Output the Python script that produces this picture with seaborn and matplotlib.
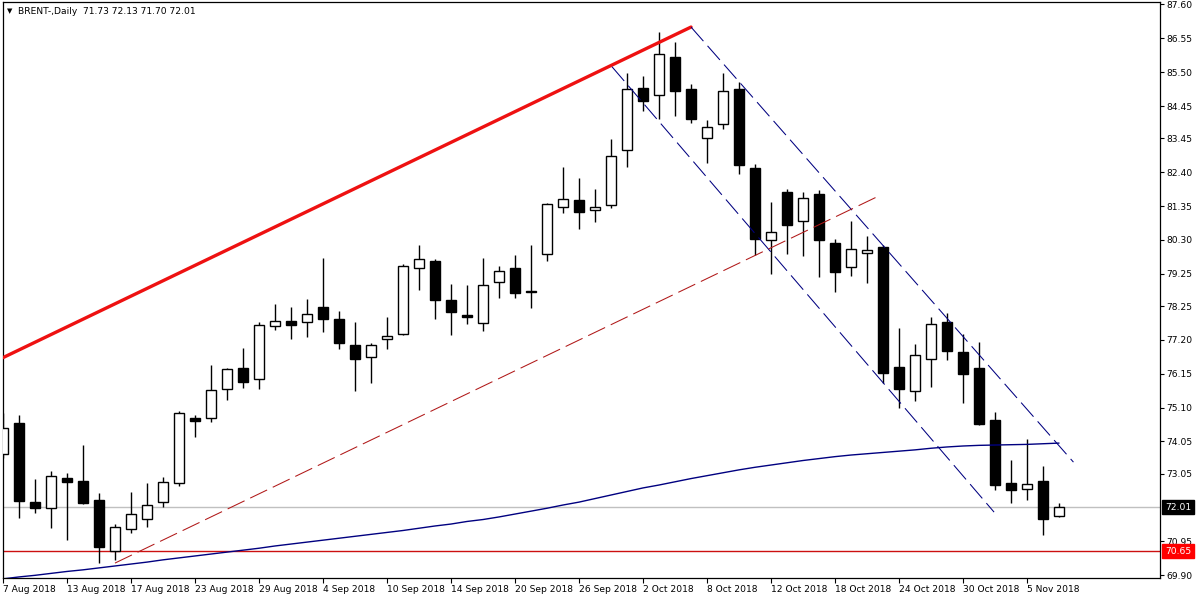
import numpy as np
import matplotlib
matplotlib.use("Agg")
import matplotlib.pyplot as plt
import matplotlib.transforms as mtrans
from matplotlib.patches import Rectangle
import seaborn as sns

# ---------------- data ----------------
opens = [73.66, 74.62, 72.17, 71.99, 72.92, 72.82, 72.24, 70.65, 71.34, 71.65,
         72.17, 72.76, 74.78, 74.78, 75.68, 76.33, 75.99, 77.63, 77.79, 77.75,
         78.22, 77.85, 77.04, 76.67, 77.23, 77.38, 79.43, 79.65, 78.44, 77.97,
         77.72, 79.00, 79.43, 78.70, 79.86, 81.32, 81.54, 81.23, 81.38, 83.09,
         85.01, 84.79, 85.97, 84.98, 83.46, 83.89, 84.98, 82.53, 80.30, 81.79,
         80.89, 81.72, 80.20, 79.46, 79.89, 80.08, 76.36, 75.62, 76.61, 77.75,
         76.82, 76.33, 74.72, 72.76, 72.58, 72.82, 71.73]
highs = [74.93, 74.87, 72.89, 73.13, 73.07, 73.94, 72.45, 71.49, 72.48, 72.76,
         72.95, 74.99, 74.87, 76.42, 76.33, 76.95, 77.75, 78.31, 78.22, 78.47,
         79.74, 78.10, 77.75, 77.10, 77.91, 79.55, 80.14, 79.71, 78.93, 78.90,
         79.74, 79.49, 79.83, 80.14, 81.44, 82.56, 82.22, 81.88, 83.43, 85.48,
         85.38, 86.75, 86.44, 85.13, 84.02, 85.48, 85.20, 82.65, 81.48, 81.88,
         81.79, 81.85, 80.33, 80.89, 80.42, 80.14, 77.57, 77.07, 77.91, 78.03,
         77.38, 77.13, 74.96, 73.48, 74.13, 73.29, 72.13]
lows = [73.54, 71.68, 71.83, 71.37, 71.00, 72.11, 70.28, 70.38, 71.21, 71.40,
        72.02, 72.67, 74.19, 74.65, 75.34, 75.71, 75.68, 77.51, 77.23, 77.29,
        77.44, 76.92, 75.62, 75.86, 76.92, 77.35, 78.75, 77.85, 77.35, 77.69,
        77.48, 78.50, 78.50, 78.19, 79.65, 81.13, 80.64, 80.86, 81.29, 82.56,
        84.30, 84.05, 84.14, 83.93, 82.69, 83.74, 82.34, 79.83, 79.24, 79.86,
        79.80, 79.15, 78.69, 79.18, 78.96, 75.86, 75.09, 75.31, 75.74, 76.58,
        75.24, 74.56, 72.55, 72.14, 72.24, 71.15, 71.70]
closes = [74.47, 72.20, 71.99, 72.98, 72.79, 72.14, 70.78, 71.40, 71.80, 72.08,
          72.79, 74.93, 74.69, 75.65, 76.30, 75.89, 77.66, 77.79, 77.66, 78.00,
          77.85, 77.10, 76.61, 77.04, 77.32, 79.49, 79.71, 78.44, 78.07, 77.91,
          78.90, 79.34, 78.65, 78.68, 81.41, 81.57, 81.17, 81.32, 82.90, 84.98,
          84.61, 86.07, 84.92, 84.05, 83.80, 84.92, 82.62, 80.33, 80.55, 80.76,
          81.60, 80.30, 79.31, 80.02, 79.99, 76.17, 75.68, 76.73, 77.69, 76.86,
          76.14, 74.59, 72.70, 72.55, 72.73, 71.65, 72.01]
moving_avg = [69.79, 69.85, 69.90, 69.96, 70.02, 70.07, 70.13, 70.19, 70.25, 70.31,
              70.38, 70.44, 70.50, 70.56, 70.62, 70.68, 70.74, 70.81, 70.87, 70.93,
              70.99, 71.05, 71.11, 71.17, 71.23, 71.29, 71.36, 71.43, 71.49, 71.57,
              71.63, 71.71, 71.80, 71.89, 71.98, 72.08, 72.17, 72.28, 72.39, 72.50,
              72.61, 72.70, 72.80, 72.90, 72.99, 73.08, 73.17, 73.25, 73.32, 73.39,
              73.46, 73.52, 73.58, 73.63, 73.67, 73.71, 73.75, 73.79, 73.84, 73.88,
              73.91, 73.93, 73.94, 73.95, 73.96, 73.98, 74.00]

date_labels = ["7 Aug 2018", "13 Aug 2018", "17 Aug 2018", "23 Aug 2018", "29 Aug 2018",
               "4 Sep 2018", "10 Sep 2018", "14 Sep 2018", "20 Sep 2018", "26 Sep 2018",
               "2 Oct 2018", "8 Oct 2018", "12 Oct 2018", "18 Oct 2018", "24 Oct 2018",
               "30 Oct 2018", "5 Nov 2018"]
price_ticks = [87.60, 86.55, 85.50, 84.45, 83.45, 82.40, 81.35, 80.30, 79.25, 78.25,
               77.20, 76.15, 75.10, 74.05, 73.05, 70.95, 69.90]

# drawn objects (bar index, price)
trend_x, trend_y = [0.0, 43.0], [76.65, 86.90]            # thick red
channel_up_x, channel_up_y = [43.0, 66.9], [86.90, 73.41]  # blue dashed
channel_lo_x, channel_lo_y = [38.06, 61.94], [85.67, 71.86]
fan_x, fan_y = [7.0, 54.6], [70.28, 81.63]                 # red dashed
last_price = 72.01
level_price = 70.65
title_text = "BRENT-,Daily  71.73 72.13 71.70 72.01"

# ---------------- style ----------------
sns.set_theme(style="white")
plt.rcParams["font.family"] = ["DejaVu Sans"]
FS = 6.6

fig = plt.figure(figsize=(12, 6), dpi=100, facecolor="white")
ax = fig.add_axes([3 / 1200, 22 / 600, 1157 / 1200, 576 / 600])
ax.set_facecolor("white")

x = np.arange(len(opens))
o = np.array(opens); h = np.array(highs); l = np.array(lows); c = np.array(closes)
up = c >= o

# horizontal levels (behind candles)
ax.axhline(last_price, color="#c0c0c0", lw=1.0, zorder=1)
ax.axhline(level_price, color="#cc1010", lw=1.0, zorder=1)

# wicks
ax.vlines(x, l, h, color="black", lw=1.0, zorder=3)
# bodies
body_bottom = np.minimum(o, c)
body_h = np.maximum(np.abs(c - o), 0.03)
ax.bar(x[up], body_h[up], bottom=body_bottom[up], width=0.64,
       color="white", edgecolor="black", linewidth=1.0, zorder=4)
ax.bar(x[~up], body_h[~up], bottom=body_bottom[~up], width=0.64,
       color="black", edgecolor="black", linewidth=1.0, zorder=4)

# moving average and drawn lines via seaborn
sns.lineplot(x=x, y=moving_avg, ax=ax, color="#000080", lw=1.0, zorder=6)
sns.lineplot(x=trend_x, y=trend_y, ax=ax, color="#ee1111", lw=2.4, zorder=7)
l1 = sns.lineplot(x=channel_up_x, y=channel_up_y, ax=ax, color="#000080", lw=0.75, zorder=7)
ax.lines[-1].set_dashes([18, 6])
sns.lineplot(x=channel_lo_x, y=channel_lo_y, ax=ax, color="#000080", lw=0.75, zorder=7)
ax.lines[-1].set_dashes([18, 6])
sns.lineplot(x=fan_x, y=fan_y, ax=ax, color="#b01818", lw=0.75, zorder=7)
ax.lines[-1].set_dashes([18, 6])

# axes limits
ax.set_xlim(0.0, 72.31)
ax.set_ylim(69.817, 87.677)

# spines
for s in ax.spines.values():
    s.set_visible(True)
    s.set_color("black")
    s.set_linewidth(0.9)

# y axis on the right
ax.yaxis.tick_right()
ax.set_yticks(price_ticks)
ax.set_yticklabels([f"{v:.2f}" for v in price_ticks])
ax.tick_params(axis="y", which="both", right=True, left=False, direction="out",
               length=3, width=0.8, pad=1.5, labelsize=FS, colors="black")

# x axis
ax.set_xticks(np.arange(0, len(opens), 4))
ax.set_xticklabels(date_labels, ha="left")
ax.tick_params(axis="x", which="both", bottom=True, direction="out",
               length=3.5, width=0.8, pad=1.5, labelsize=FS, colors="black")
for lab in ax.get_xticklabels():
    lab.set_horizontalalignment("left")
ax.set_xlabel(""); ax.set_ylabel("")
ax.grid(False)
if ax.get_legend() is not None:
    ax.get_legend().remove()

# price tags on the right scale
blend = mtrans.blended_transform_factory(ax.transAxes, ax.transData)
px_x = 1 / 1157.0
px_y = (87.677 - 69.817) / 576.0
for val, col in [(last_price, "black"), (level_price, "#ff0000")]:
    ax.add_patch(Rectangle((1.0 + 2 * px_x, val - 7 * px_y), 32 * px_x, 14 * px_y,
                           transform=blend, clip_on=False, facecolor=col,
                           edgecolor=col, zorder=20))
    ax.text(1.0 + 5 * px_x, val, f"{val:.2f}", transform=blend, color="white",
            fontsize=FS, ha="left", va="center", clip_on=False, zorder=21)

# title
fig.text(9.5 / 1200, 1 - 11 / 600, "▼", fontsize=5, ha="center", va="center", color="black")
fig.text(18 / 1200, 1 - 11 / 600, title_text, fontsize=FS, ha="left", va="center", color="black")

fig.savefig("out.png", dpi=100, facecolor="white")
